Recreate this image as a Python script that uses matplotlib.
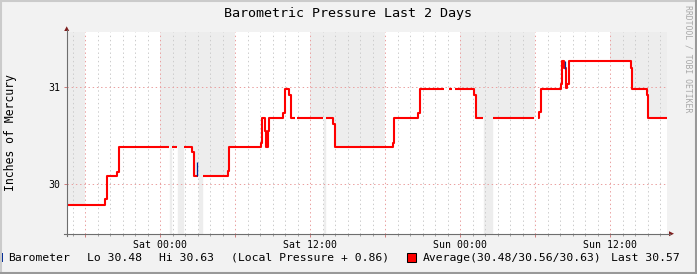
#!/usr/bin/env python3
# -*- coding: utf-8 -*-
"""Barometric pressure, last 2 days (rrdtool style graph)"""

import numpy as np
import matplotlib
matplotlib.use('Agg')
import matplotlib.pyplot as plt
from matplotlib.lines import Line2D
from matplotlib.patches import Polygon, Rectangle

# data: hours relative to Sat 00:00, step values (nan = unknown)
hours = [-7.47, -4.38, -4.26, -3.42, -3.30, 0.74, 0.94, 1.34, 1.92, 2.58,
         2.72, 3.02, 3.42, 5.42, 5.52, 8.10, 8.18, 8.40, 8.48, 8.64,
         8.74, 9.86, 9.98, 10.30, 10.46, 10.80, 10.94, 13.04, 13.28, 13.86,
         13.98, 18.62, 18.72, 20.66, 20.78, 22.74, 23.12, 23.34, 23.60, 25.14,
         25.26, 25.86, 26.66, 29.90, 30.20, 30.34, 30.46, 32.08, 32.18, 32.32,
         32.46, 32.58, 32.68, 37.66, 37.76, 38.94, 39.04, 40.53]
pressure = [29.79, 29.85, 30.09, 30.13, 30.38, np.nan, 30.38, np.nan, 30.38, 30.33,
            30.09, np.nan, 30.09, 30.14, 30.38, 30.43, 30.68, 30.55, 30.38, 30.55,
            30.68, 30.73, 30.98, 30.92, 30.68, np.nan, 30.68, np.nan, 30.68, 30.62,
            30.38, 30.43, 30.68, 30.73, 30.98, np.nan, 30.98, np.nan, 30.98, 30.92,
            30.68, np.nan, 30.68, np.nan, 30.68, 30.74, 30.98, 31.03, 31.27, 31.20,
            30.99, 31.03, 31.27, 31.20, 30.98, 30.92, 30.68, 30.68]

# raw barometer spikes peeking out from under the average line
spike_hours = [2.98, 32.42]
spike_lo = [30.09, 31.19]
spike_hi = [30.23, 31.27]

# shaded 6 hour blocks
shade_start = [-12, 0, 12, 24, 36]
shade_len = 6

tick_hours = [0, 12, 24, 36]
tick_labels = ['Sat 00:00', 'Sat 12:00', 'Sun 00:00', 'Sun 12:00']

lo, hi, offset, avg, last = 30.48, 30.63, 0.86, 30.56, 30.57

W, H = 697, 274
MONO = 'DejaVu Sans Mono'


def fx(px):
    return px / W


def fy(py):
    return 1 - py / H


fig = plt.figure(figsize=(W / 100, H / 100), dpi=100)
fig.patch.set_facecolor('#F2F2F2')

ax = fig.add_axes([fx(66.7), fy(233.7), 600 / W, 201.4 / H])
ax.set_facecolor('white')
for s in ax.spines.values():
    s.set_visible(False)

t0, t1 = hours[0], hours[-1]
ybot, ytop = 29.49, 31.567
ax.set_xlim(t0, t1)
ax.set_ylim(ybot, ytop)

for a in shade_start:
    lo_h, hi_h = max(a, t0), min(a + shade_len, t1)
    if hi_h > lo_h:
        ax.axvspan(lo_h, hi_h, color='#EDEDED', lw=0, zorder=0.2)

# white below the line, gray stays above it
h = np.array(hours)
p = np.array(pressure)
ok = ~np.isnan(p[:-1])
ax.bar(h[:-1][ok], p[:-1][ok] - ybot, width=np.diff(h)[ok], bottom=ybot,
       align='edge', color='white', edgecolor='white', linewidth=0.4, zorder=0.4)

ax.plot(hours, pressure, drawstyle='steps-post', color='#FF0000', lw=1.5,
        solid_capstyle='butt', zorder=3)
ax.vlines(spike_hours, spike_lo, spike_hi, color='#002A97', lw=0.9, zorder=3.5)

# grid
ax.set_xticks(np.arange(-6, 41, 6))
ax.set_xticklabels([tick_labels[tick_hours.index(t)] if t in tick_hours else ''
                    for t in np.arange(-6, 41, 6)])
ax.set_xticks(np.arange(-7, 41, 1), minor=True)
ax.set_yticks([30, 31])
ax.set_yticklabels(['30', '31'])
ax.grid(which='major', color='#EAA0A0', linestyle=(0, (1.4, 2.8)), lw=0.72)
ax.grid(which='minor', axis='x', color='#CCCCCC', linestyle=(0, (1.4, 2.8)), lw=0.72)
ax.tick_params(which='major', length=2.0, width=0.72, color='#D08080', pad=2.5,
               labelsize=7.1, labelfontfamily=MONO)
ax.tick_params(which='minor', length=1.4, width=0.72, color='#A0A0A0')
ax.tick_params(axis='y', pad=2.8)

# axes with arrows
axis_col = '#6E6E6E'
arrow_col = '#7F1F1F'
fig.add_artist(Line2D([fx(66.7), fx(66.7)], [fy(236), fy(30)],
                      transform=fig.transFigure, color=axis_col, lw=0.8))
fig.add_artist(Line2D([fx(63.5), fx(670)], [fy(233.7), fy(233.7)],
                      transform=fig.transFigure, color=axis_col, lw=0.8))
fig.add_artist(Polygon([[fx(64.2), fy(31)], [fx(69.2), fy(31)], [fx(66.7), fy(26.3)]],
                       closed=True, transform=fig.transFigure, color=arrow_col, lw=0))
fig.add_artist(Polygon([[fx(669), fy(231.2)], [fx(669), fy(236.2)], [fx(674), fy(233.7)]],
                       closed=True, transform=fig.transFigure, color=arrow_col, lw=0))

# texts
fig.text(fx(348), fy(13.5), 'Barometric Pressure Last 2 Days', ha='center',
         va='center', fontsize=9.6, family=MONO)
fig.text(fx(11), fy(132.5), 'Inches of Mercury', rotation=90, ha='center',
         va='center', fontsize=8.3, family=MONO)
fig.text(fx(688), fy(5), 'RRDTOOL / TOBI OETIKER', rotation=270, ha='center',
         va='top', fontsize=5.9, family=MONO, color='#A8A8A8')

# legend
ly = 258
fig.add_artist(Rectangle((fx(-6), fy(262.3)), fx(8.7), 9 / H, transform=fig.transFigure,
                         facecolor='#002A97', edgecolor='none'))
fig.text(fx(8.3), fy(ly), 'Barometer', va='center', fontsize=8.2, family=MONO)
fig.text(fx(87.3), fy(ly), 'Lo %.2f' % lo, va='center', fontsize=8.2, family=MONO)
fig.text(fx(159.3), fy(ly), 'Hi %.2f' % hi, va='center', fontsize=8.2, family=MONO)
fig.text(fx(231), fy(ly), '(Local Pressure + %.2f)' % offset, va='center',
         fontsize=8.2, family=MONO)
fig.add_artist(Rectangle((fx(407.3), fy(262)), fx(8.4), 8.6 / H, transform=fig.transFigure,
                         facecolor='#FF0000', edgecolor='black', lw=0.75))
fig.text(fx(423), fy(ly), 'Average(%.2f/%.2f/%.2f)' % (lo, avg, hi), va='center',
         fontsize=8.2, family=MONO)
fig.text(fx(611.3), fy(ly), 'Last %.2f' % last, va='center', fontsize=8.2, family=MONO)

# 3d frame
fig.add_artist(Line2D([0, 1], [fy(0.7), fy(0.7)], transform=fig.transFigure, color='#CBCBCB', lw=1.5))
fig.add_artist(Line2D([fx(0.7), fx(0.7)], [0, 1], transform=fig.transFigure, color='#CBCBCB', lw=1.5))
fig.add_artist(Line2D([0, 1], [fy(H - 0.8), fy(H - 0.8)], transform=fig.transFigure, color='#999999', lw=1.5))
fig.add_artist(Line2D([fx(W - 0.8), fx(W - 0.8)], [0, 1], transform=fig.transFigure, color='#999999', lw=1.5))

fig.savefig('out.png', dpi=100, facecolor=fig.get_facecolor())
